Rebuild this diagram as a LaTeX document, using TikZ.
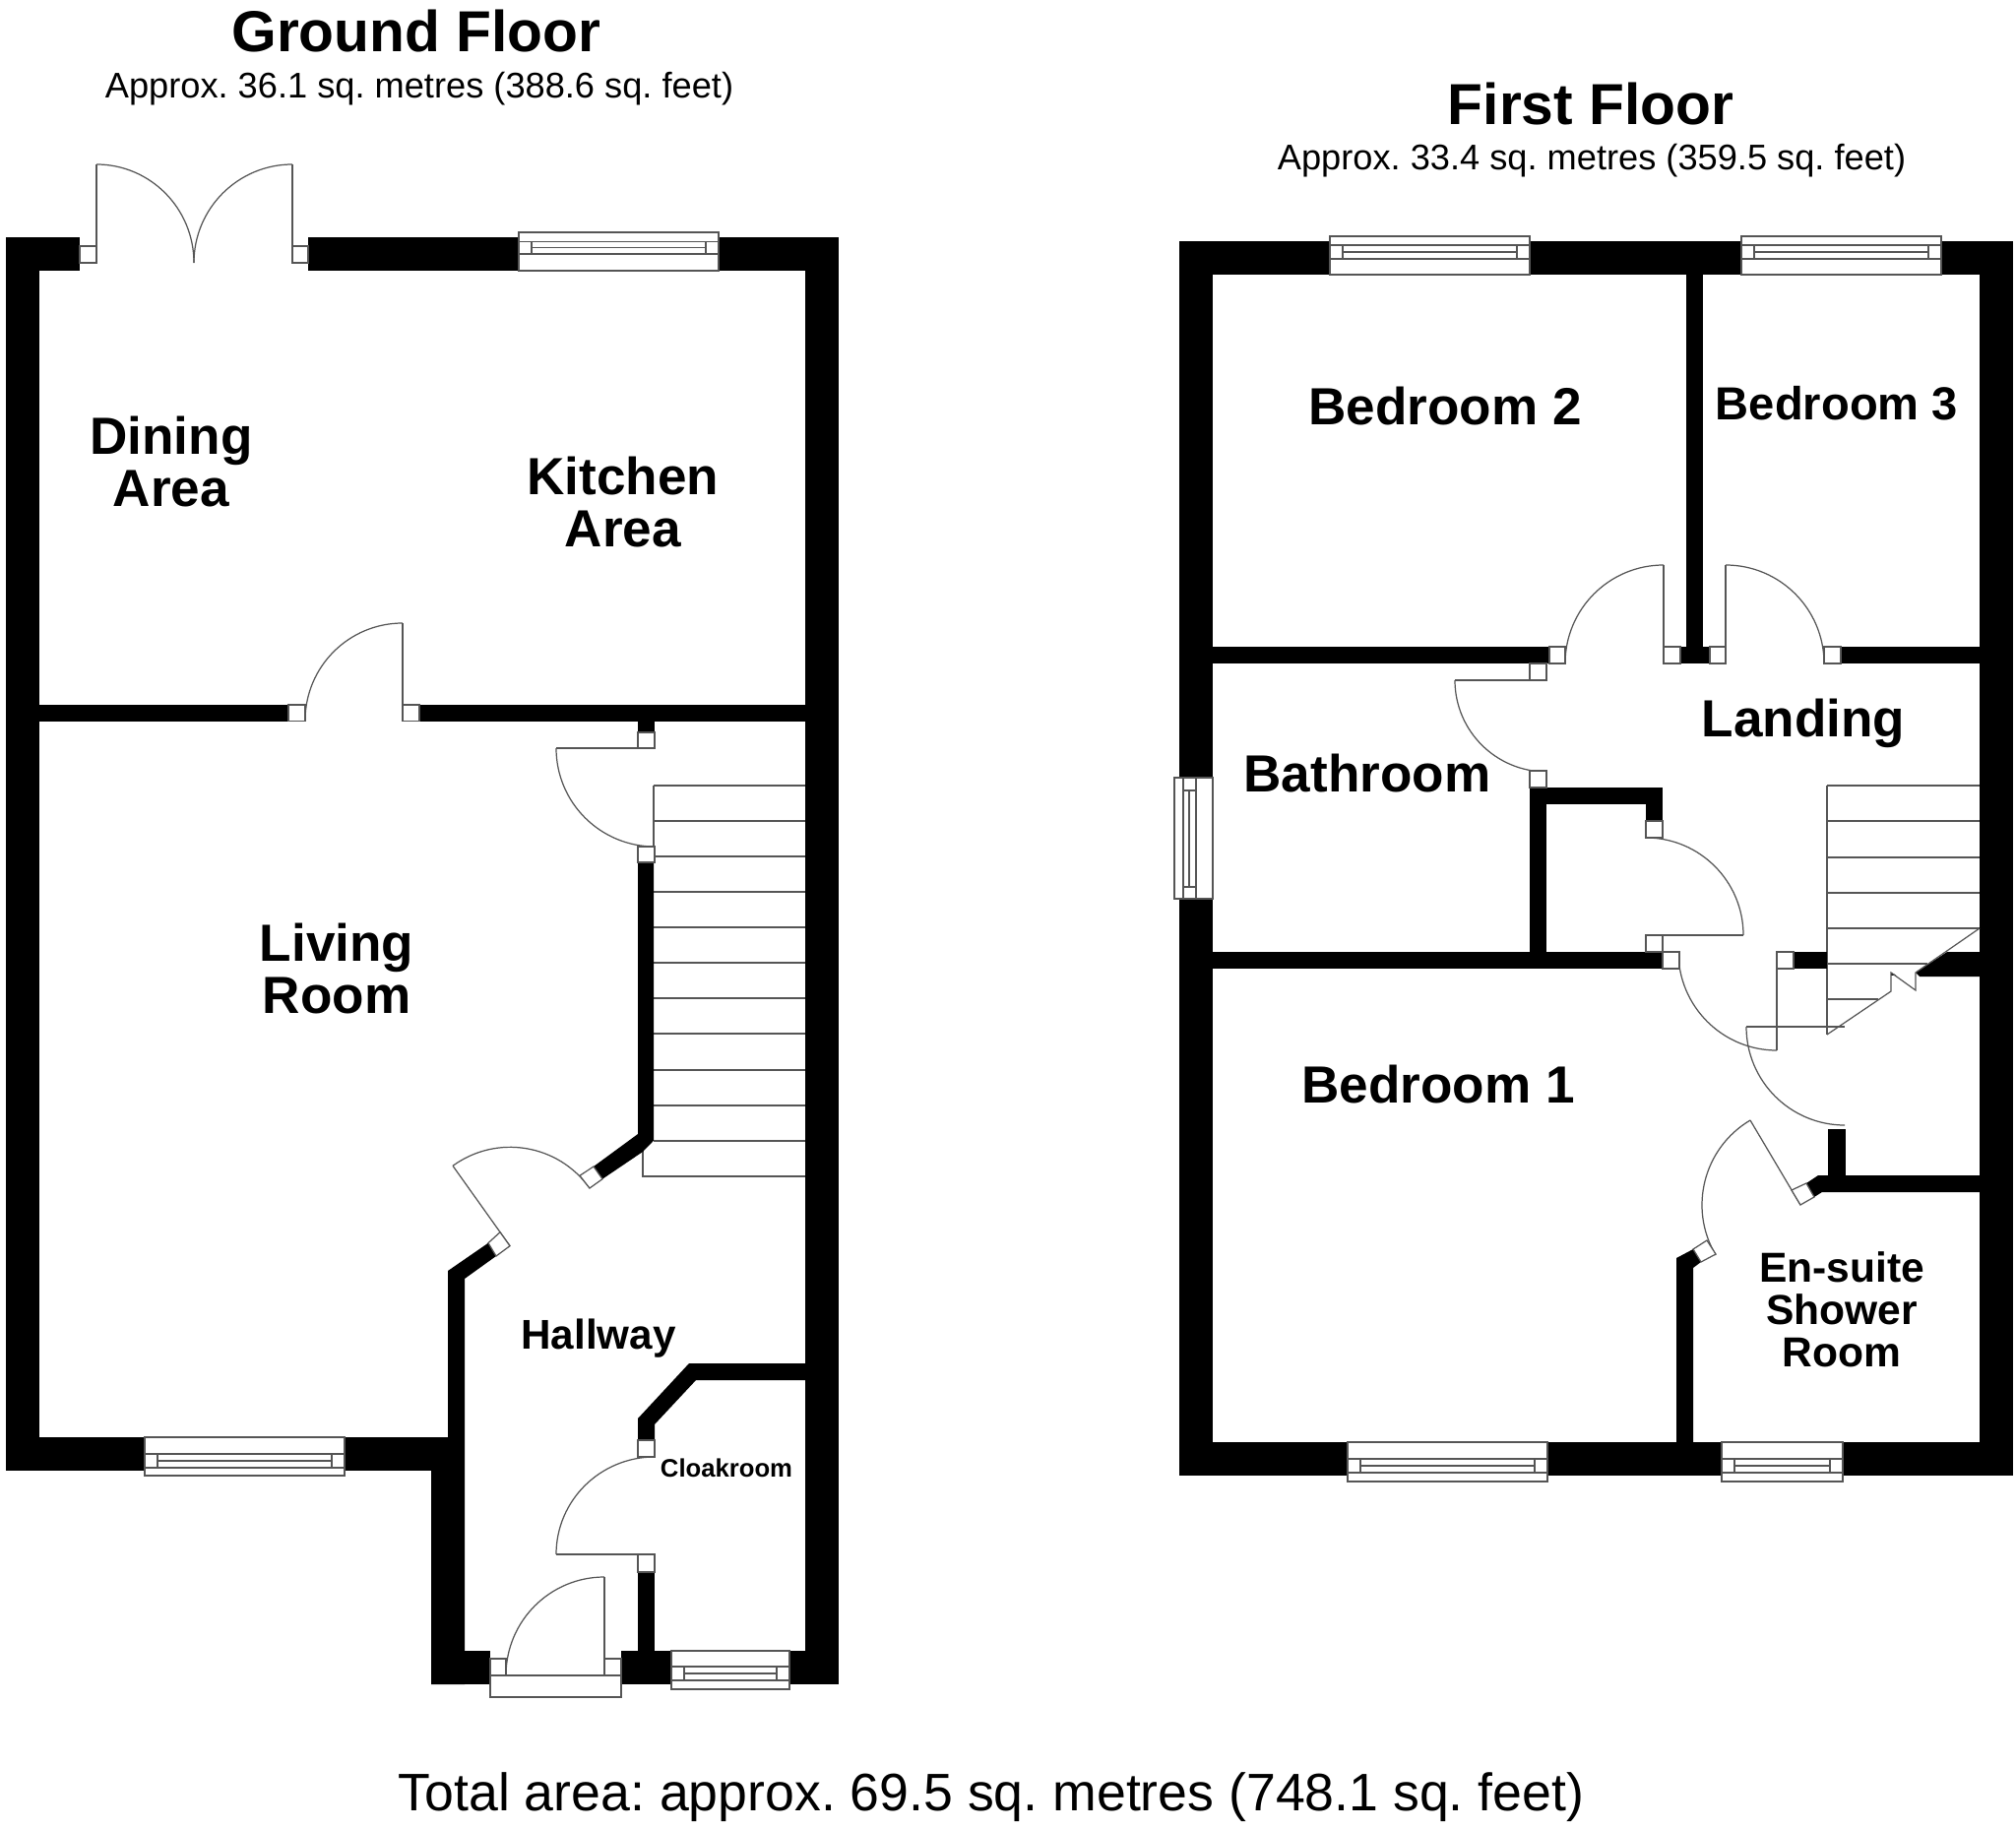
\documentclass[tikz,border=0pt]{standalone}
\usepackage{fontspec}
\setmainfont{Liberation Sans}
\usepackage{xcolor}
\definecolor{WallBlack}{HTML}{000000}
\definecolor{LineGray}{HTML}{555555}
\usetikzlibrary{calc}
\frenchspacing
\tikzset{
  % Wall and line styles
  wall/.style={fill=WallBlack, draw=none},
  fine/.style={draw=LineGray, line width=0.35pt},
  jamb/.style={fill=white, draw=LineGray, line width=0.35pt},
  % Text styles
  floortitle/.style={font=\fontsize{16.7}{18}\selectfont\bfseries, inner sep=0pt},
  floorarea/.style={font=\fontsize{10.3}{12}\selectfont, inner sep=0pt},
  totalarea/.style={font=\fontsize{15.25}{18}\selectfont, inner sep=0pt},
  roomlabel/.style={font=\fontsize{15.1}{14.9}\selectfont\bfseries, align=center, inner sep=0pt},
  midlabel/.style={font=\fontsize{12.1}{12.2}\selectfont\bfseries, align=center, inner sep=0pt},
  smalllabel/.style={font=\fontsize{7.3}{8}\selectfont\bfseries, inner sep=0pt}
}
% door swing: centre, start, end of a quarter circle
\newcommand{\doorswing}[3]{
  \draw[fine] (#2) .. controls ($(#2)+0.5523*(#3)-0.5523*(#1)$) and ($(#3)+0.5523*(#2)-0.5523*(#1)$) .. (#3);
}
% horizontal window: x1, x2, top, bottom, upper line, lower line
\newcommand{\flatwindow}[6]{
  \pgfmathsetmacro\winL{#1+13}
  \pgfmathsetmacro\winR{#2-13}
  \pgfmathsetmacro\winM{(#5+#6)/2}
  \draw[jamb] (#1,#3) rectangle (#2,#4);
  \draw[fine] (#1,#5) -- (#2,#5);
  \draw[fine] (#1,#6) -- (#2,#6);
  \draw[fine] (\winL,#5) -- (\winL,#6);
  \draw[fine] (\winR,#5) -- (\winR,#6);
  \draw[fine] (\winL,\winM) -- (\winR,\winM);
}
\begin{document}
\begin{tikzpicture}[x=0.01cm, y=-0.01cm]
  \useasboundingbox (0,0) rectangle (2048,1858);
  \fill[white] (0,0) rectangle (2048,1858);

  % Ground floor stairs
  \foreach \y in {798,834,870,906,942,978,1014,1050,1087,1123,1159} {
    \draw[fine] (664,\y) -- (818,\y);
  }
  \draw[fine] (664,798) -- (664,860);
  \draw[fine] (653,1159) -- (653,1195) -- (818,1195);

  % Ground floor doors
  \draw[fine] (98,267) -- (98,167);
  \doorswing{98,267}{98,167}{197,267}
  \draw[fine] (297,267) -- (297,167);
  \doorswing{297,267}{297,167}{197,267}
  \draw[fine] (409,732) -- (409,633);
  \doorswing{409,732}{409,633}{310,732}
  \draw[fine] (665,760) -- (565,760);
  \doorswing{665,760}{565,760}{665,860}
  \draw[fine] (518,1265.7) -- (460,1184.3);
  \doorswing{518,1265.7}{460,1184.3}{599,1207}
  \draw[fine] (665,1579) -- (565,1579);
  \doorswing{665,1579}{565,1579}{665,1480}
  \draw[fine] (614,1702) -- (614,1602);
  \doorswing{614,1702}{614,1602}{514,1702}

  % Ground floor walls
  \fill[wall] (5.5,241.5) rectangle (81,275);
  \fill[wall] (313,241.5) rectangle (852,275);
  \fill[wall] (5.5,241.5) rectangle (39.5,1494);
  \fill[wall] (818,241.5) rectangle (852,1711);
  \fill[wall] (39.5,716) rectangle (293,732.5);
  \fill[wall] (426,716) rectangle (818,732.5);
  \fill[wall] (648,732) rectangle (665,744);
  \fill[wall] (5.5,1460) rectangle (472,1494);
  \fill[wall] (648,876) -- (664,876) -- (664,1158.7) -- (653,1170) -- (612,1197.7) -- (603,1185) -- (648,1152) -- cycle;
  \fill[wall] (496,1262.7) -- (504,1276) -- (472,1299) -- (472,1711) -- (438,1711) -- (438,1494) -- (455,1494) -- (455,1291) -- cycle;
  \fill[wall] (648,1463) -- (665,1463) -- (665,1447) -- (707,1402) -- (818,1402) -- (818,1385) -- (700,1385) -- (648,1441) -- cycle;
  \fill[wall] (648,1597) rectangle (665,1677);
  \fill[wall] (438,1677) rectangle (498,1711);
  \fill[wall] (631,1677) rectangle (682,1711);
  \fill[wall] (802,1677) rectangle (852,1711);

  % Ground floor jambs
  \draw[jamb] (81,250) rectangle (98,267);
  \draw[jamb] (297,250) rectangle (313,267);
  \draw[jamb] (293,716) rectangle (310,732.5);
  \draw[jamb] (409,716) rectangle (426,732.5);
  \draw[jamb] (648,744) rectangle (665,760);
  \draw[jamb] (648,860) rectangle (665,876);
  \draw[jamb] (589,1194.3) -- (603,1185) -- (612,1197.7) -- (599,1207) -- cycle;
  \draw[jamb] (496,1262.7) -- (508,1251.7) -- (518,1265.7) -- (504,1276) -- cycle;
  \draw[jamb] (648,1463) rectangle (665,1480);
  \draw[jamb] (648,1579) rectangle (665,1597);
  \draw[jamb] (498,1685) rectangle (514,1702);
  \draw[jamb] (614,1685) rectangle (631,1702);
  \draw[jamb] (498,1702) rectangle (631,1724);

  % Ground floor windows
  \flatwindow{527}{730}{236}{275}{245.5}{258}
  \flatwindow{147}{350}{1460}{1499}{1477}{1491}
  \flatwindow{682}{802}{1677}{1716}{1693}{1707}

  % First floor stairs
  \foreach \y in {798,834,871,907} {
    \draw[fine] (1856,\y) -- (2011,\y);
  }
  \draw[fine] (1856,943) -- (2011,943);
  \draw[fine] (1856,979) -- (1958,979);
  \draw[fine] (1856,1015) -- (1908,1015);
  \draw[fine] (1856,798) -- (1856,1051);

  % First floor doors
  \draw[fine] (1690,674) -- (1690,574);
  \doorswing{1690,674}{1690,574}{1590,674}
  \draw[fine] (1753,674) -- (1753,574);
  \doorswing{1753,674}{1753,574}{1853,674}
  \draw[fine] (1571,691) -- (1478,691);
  \doorswing{1571,691}{1478,691}{1571,784}
  \draw[fine] (1672,950) -- (1771,950);
  \doorswing{1672,950}{1771,950}{1672,851}
  \draw[fine] (1805,967) -- (1805,1067);
  \doorswing{1805,967}{1705,967}{1805,1067}
  \draw[fine] (1774,1043) -- (1874,1043);
  \doorswing{1874,1043}{1774,1043}{1874,1143}
  \draw[fine] (1829,1224) -- (1778,1138);
  \doorswing{1829,1224}{1778,1138}{1743,1275}

  % First floor walls
  \fill[wall] (1198,245) rectangle (2045,279);
  \fill[wall] (1198,245) rectangle (1232,1499);
  \fill[wall] (2011,245) rectangle (2045,1499);
  \fill[wall] (1198,1465) rectangle (2045,1499);
  \fill[wall] (1713,279) rectangle (1730,674);
  \fill[wall] (1232,657) rectangle (1574,674);
  \fill[wall] (1707,657) rectangle (1737,674);
  \fill[wall] (1870,657) rectangle (2011,674);
  \fill[wall] (1554,800) rectangle (1571,967);
  \fill[wall] (1554,800) rectangle (1689,817);
  \fill[wall] (1672,800) rectangle (1689,834);
  \fill[wall] (1232,967) rectangle (1689,984);
  \fill[wall] (1822,967) rectangle (1856,984);
  \fill[wall] (1978,967) -- (2011,967) -- (2011,992) -- (1950,992) -- (1946,988) -- cycle;
  \fill[wall] (1921,988) -- (1926,990.5) -- (1921,991) -- cycle;
  \fill[wall] (1857,1147) rectangle (1875,1194);
  \fill[wall] (1835,1202) -- (1847,1194) -- (2011,1194) -- (2011,1211) -- (1851,1211) -- (1843,1216) -- cycle;
  \fill[wall] (1703,1278) -- (1720,1269) -- (1728,1282) -- (1720,1288) -- (1720,1465) -- (1703,1465) -- cycle;

  % First floor jambs
  \draw[jamb] (1574,657) rectangle (1590,674);
  \draw[jamb] (1690,657) rectangle (1707,674);
  \draw[jamb] (1737,657) rectangle (1753,674);
  \draw[jamb] (1853,657) rectangle (1870,674);
  \draw[jamb] (1554,674) rectangle (1571,691);
  \draw[jamb] (1554,783) rectangle (1571,800);
  \draw[jamb] (1672,834) rectangle (1689,851);
  \draw[jamb] (1672,950) rectangle (1689,967);
  \draw[jamb] (1689,967) rectangle (1706,984);
  \draw[jamb] (1805,967) rectangle (1822,984);
  \draw[jamb] (1820,1209) -- (1835,1202) -- (1843,1216) -- (1829,1224) -- cycle;
  \draw[jamb] (1720,1269) -- (1734,1260) -- (1743,1274) -- (1728,1282) -- cycle;

  % Break line over the stairs
  \draw[fine] (2011,943) -- (1946,988) -- (1946,1006) -- (1921,988) -- (1921,1007) -- (1856,1051);
  \draw[fine] (1874,1043) -- (1856,1043);

  % First floor windows
  \flatwindow{1351}{1554}{240}{279}{249}{263}
  \flatwindow{1769}{1972}{240}{279}{249}{263}
  \flatwindow{1369}{1572}{1465}{1505}{1482}{1496}
  \flatwindow{1749}{1872}{1465}{1505}{1482}{1496}
  \draw[jamb] (1193,790) rectangle (1232,913);
  \draw[fine] (1202,790) -- (1202,913);
  \draw[fine] (1215,790) -- (1215,913);
  \draw[fine] (1202,803) -- (1215,803);
  \draw[fine] (1202,901) -- (1215,901);
  \draw[fine] (1208,803) -- (1208,901);

  % Titles
  \node[floortitle] (groundTitle) at (423,32) {Ground Floor};
  \node[floorarea] (groundArea) at (426,90) {Approx. 36.1 sq. metres (388.6 sq. feet)};
  \node[floortitle] (firstTitle) at (1616,106) {First Floor};
  \node[floorarea] (firstArea) at (1617,163) {Approx. 33.4 sq. metres (359.5 sq. feet)};
  \node[totalarea] (totalArea) at (1007,1826) {Total area: approx. 69.5 sq. metres (748.1 sq. feet)};

  % Ground floor rooms
  \node[roomlabel] (dining) at (174,469) {Dining\\Area};
  \node[roomlabel] (kitchen) at (633,510) {Kitchen\\Area};
  \node[roomlabel] (living) at (342,984) {Living\\Room};
  \node[midlabel, font=\fontsize{12}{13}\selectfont\bfseries] (hallway) at (608,1360) {Hallway};
  \node[smalllabel] (cloakroom) at (738,1491) {Cloakroom};

  % First floor rooms
  \node[roomlabel] (bedTwo) at (1468,413) {Bedroom 2};
  \node[roomlabel, font=\fontsize{13.4}{14}\selectfont\bfseries] (bedThree) at (1866,410) {Bedroom 3};
  \node[roomlabel] (bathroom) at (1389,786) {Bathroom};
  \node[roomlabel] (landing) at (1832,735) {Landing};
  \node[roomlabel] (bedOne) at (1461,1102) {Bedroom 1};
  \node[midlabel] (ensuite) at (1871,1330) {En-suite\\Shower\\Room};
\end{tikzpicture}
\end{document}
